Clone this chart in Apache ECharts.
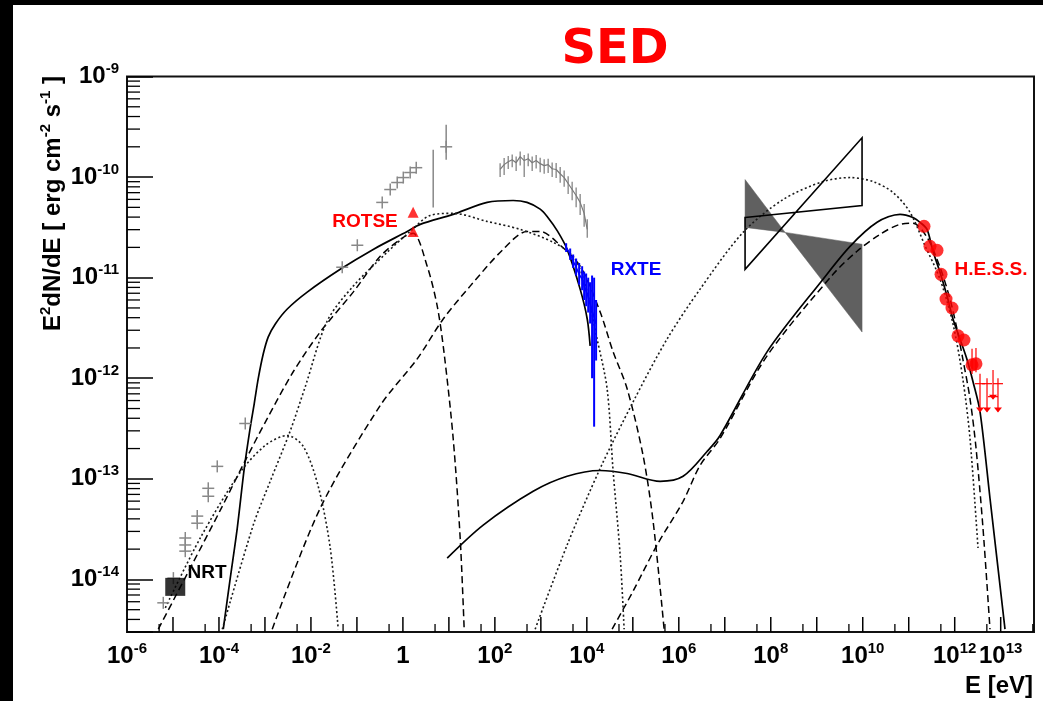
<!DOCTYPE html>
<html><head><meta charset="utf-8">
<script src="https://cdn.jsdelivr.net/npm/echarts@6/dist/echarts.min.js"></script>
<style>
html,body{margin:0;padding:0;background:#000;width:1043px;height:701px;overflow:hidden}
#c{position:absolute;left:13px;top:5px;width:1030px;height:696px;background:#fff}
</style></head><body><div id="c"></div>
<script>
// ---------- axis ----------
const X_MIN = 1e-6, X_MAX = 5.3e13, Y_MIN = 3e-15, Y_MAX = 1e-9;
const xTickExponents = [-6, -4, -2, 0, 2, 4, 6, 8, 10, 12, 13];
const yTickExponents = [-14, -13, -12, -11, -10, -9];

// ---------- model curves [E (eV), E^2 dN/dE] ----------
const synchrotronTotal = [[1.24e-4,3.2e-15],[1.76e-4,1.03e-14],[2.5e-4,3.24e-14],[3.55e-4,1.27e-13],[4.79e-4,3.24e-13],[5.85e-4,5.6e-13],[7.14e-4,9.9e-13],[9.2e-4,1.75e-12],[1.18e-3,2.58e-12],[1.68e-3,3.47e-12],[3.06e-3,4.88e-12],[8.3e-3,7.18e-12],[4.34e-2,1.21e-11],[0.226,1.91e-11],[1.24,2.88e-11],[2.38,3.39e-11],[12.4,4.26e-11],[68,5.6e-11],[250,5.85e-11],[500,5.6e-11],[966,4.8e-11],[1370,4.06e-11],[2300,2.9e-11],[3730,1.91e-11],[7150,7.69e-12],[1.02e4,3.88e-12],[1.18e4,2.1e-12]];
const inverseComptonTotal = [[9.18,1.63e-14],[55.7,3.47e-14],[681,7.52e-14],[3730,1.06e-13],[1.95e4,1.21e-13],[7.52e4,1.13e-13],[3.92e5,9.44e-14],[1.24e6,1.06e-13],[4.12e6,1.87e-13],[7.9e6,2.7e-13],[8.3e7,1.83e-12],[1.37e9,9.66e-12],[5.3e9,2.05e-11],[2.05e10,3.55e-11],[6.47e10,4.26e-11],[1.24e11,3.97e-11],[1.76e11,3.55e-11],[2.5e11,3.02e-11],[3.37e11,1.83e-11],[4.79e11,1.13e-11],[6.81e11,6.56e-12],[9.18e11,3.88e-12],[1.3e12,2.46e-12],[1.83e12,1.56e-12],[2.5e12,9.23e-13],[3.55e12,4.66e-13],[5.85e12,6.41e-14],[8.73e12,1.3e-14],[1.24e13,3.2e-15]];
const synchrotronDashed1 = [[4.79e-6,3.2e-15],[2.38e-5,1.3e-14],[1.07e-4,4.88e-14],[3.73e-4,1.52e-13],[1.12e-3,3.97e-13],[4.12e-3,1.16e-12],[1.59e-2,2.88e-12],[8.3e-2,7.18e-12],[0.321,1.63e-11],[1.02,2.52e-11],[1.67,2.76e-11],[3.37,1.3e-11],[5.57,5.23e-12],[7.9,1.75e-12],[12.4,2.52e-13],[17.6,2.58e-14],[21.5,3.2e-15]];
const synchrotronDashed2 = [[1.44e-3,3.2e-15],[1.59e-2,5.1e-14],[0.321,5.35e-13],[2.05,1.56e-12],[7.52,3.88e-12],[29,8.24e-12],[151,1.91e-11],[500,2.88e-11],[966,2.88e-11],[2630,2.1e-11],[7150,1.3e-11],[1.95e4,4.55e-12],[3.73e4,1.83e-12],[7.52e4,7.87e-13],[1.67e5,1.71e-13],[2.76e5,3.79e-14],[4.79e5,3.2e-15]];
const inverseComptonDashed = [[3.55e4,3.2e-15],[1.02e5,7.69e-15],[3.37e5,2.2e-14],[1.24e6,5.98e-14],[2.9e6,1.36e-13],[7.9e6,2.52e-13],[8.3e7,1.67e-12],[2.26e9,1.08e-11],[7.52e9,1.83e-11],[2.38e10,2.7e-11],[6.47e10,3.39e-11],[1.24e11,3.47e-11],[2.5e11,2.52e-11],[4.79e11,1.27e-11],[7.9e11,6.12e-12],[1.12e12,3.09e-12],[1.5e12,1.56e-12],[2.15e12,6.27e-13],[2.9e12,2.05e-13],[4.12e12,3.24e-14],[5.85e12,3.2e-15]];
const synchrotronDotted1 = [[6.81e-6,5.22e-15],[3.92e-5,2.58e-14],[2.9e-4,1.16e-13],[1.02e-3,2.15e-13],[3.06e-3,2.7e-13],[6.81e-3,2.1e-13],[1.44e-2,8.43e-14],[2.63e-2,2.05e-14],[3.92e-2,3.2e-15]];
const synchrotronDotted2 = [[1.18e-4,3.2e-15],[5.57e-4,3.47e-14],[1.3e-3,9.44e-14],[3.55e-3,3.0e-13],[7.52e-3,8.24e-13],[2.26e-2,3.71e-12],[8.3e-2,8.24e-12],[0.456,1.79e-11],[1.44,2.88e-11],[3.92,4.16e-11],[12.4,4.36e-11],[68,3.62e-11],[355,3.02e-11],[1850,2.25e-11],[5040,1.63e-11],[9180,8.63e-12],[1.67e4,2.46e-12],[2.76e4,7.87e-13],[3.73e4,1.19e-13],[5.3e4,1.75e-14],[6.47e4,3.2e-15]];
const inverseComptonDotted = [[752,3.2e-15],[3730,2.2e-14],[1.95e4,1.27e-13],[1.02e5,5.85e-13],[5.57e5,2.46e-12],[2.9e6,7.69e-12],[2.5e7,2.82e-11],[1.85e8,5.98e-11],[1.37e9,9.02e-11],[5.3e9,9.89e-11],[1.67e10,9.02e-11],[4.56e10,7.03e-11],[1.07e11,4.46e-11],[2.24e11,2.1e-11],[4.79e11,9.66e-12],[9.18e11,3.47e-12],[1.5e12,9.9e-13],[2.15e12,2.52e-13],[3.21e12,2.05e-14]];

// ---------- data ----------
const grayCrosses = [[6.15e-6,5.85e-15],[1.02e-5,1.03e-14],[1.85e-5,2.58e-14],[1.85e-5,2.2e-14],[1.85e-5,1.91e-14],[3.37e-5,4.26e-14],[3.37e-5,3.62e-14],[5.85e-5,8.05e-14],[5.85e-5,6.71e-14],[9.18e-5,1.33e-13],[3.73e-4,3.55e-13],[4.79e-2,1.27e-11],[0.102,2.1e-11],[0.355,5.6e-11],[0.53,7.52e-11],[0.752,8.83e-11],[1.02,9.89e-11],[1.44,1.11e-10],[1.95,1.24e-10],[8.73,2.0e-10]];
const grayErrE  = [4.56, 8.73];
const grayErrLo = [4.99e-11, 1.49e-10];
const grayErrHi = [1.87e-10, 3.31e-10];

const xraySpecE  = [130,159,195,238,290,355,434,530,647,790,966,1180,1440,1760,2150,2630,3210,3920,4790,5850,7150,8730,1.02e4];
const xraySpecF  = [1.19e-10,1.33e-10,1.42e-10,1.49e-10,1.39e-10,1.6e-10,1.46e-10,1.52e-10,1.39e-10,1.46e-10,1.36e-10,1.30e-10,1.33e-10,1.21e-10,1.19e-10,1.08e-10,9.89e-11,8.63e-11,7.52e-11,6.56e-11,5.6e-11,4.36e-11,3.02e-11];
const xraySpecLo = [1.0e-10,1.05e-10,1.2e-10,1.25e-10,1.15e-10,1.3e-10,1.0e-10,1.28e-10,1.15e-10,1.22e-10,1.12e-10,1.08e-10,1.1e-10,1.0e-10,9.8e-11,8.8e-11,8.0e-11,6.8e-11,5.9e-11,5.0e-11,4.2e-11,3.2e-11,2.5e-11];
const xraySpecHi = [1.37e-10,1.55e-10,1.62e-10,1.68e-10,1.6e-10,1.8e-10,1.66e-10,1.72e-10,1.6e-10,1.66e-10,1.56e-10,1.5e-10,1.52e-10,1.4e-10,1.38e-10,1.26e-10,1.16e-10,1.02e-10,9.0e-11,7.9e-11,6.8e-11,5.4e-11,3.8e-11];

const rxteE  = [3550,4340,5040,5850,6810,7900,8730,9660,1.07e4,1.18e4,1.3e4,1.44e4,1.59e4];
const rxteF  = [2.0e-11,1.71e-11,1.46e-11,1.27e-11,1.08e-11,9.66e-12,8.24e-12,7.35e-12,6.41e-12,5.47e-12,4.66e-12,4.06e-12,3.47e-12];
const rxteLo = [1.8e-11,1.5e-11,1.25e-11,1.05e-11,8.5e-12,7.5e-12,6.0e-12,5.2e-12,4.5e-12,3.5e-12,1.0e-12,3.3e-13,1.5e-12];
const rxteHi = [2.2e-11,1.95e-11,1.7e-11,1.55e-11,1.4e-11,1.3e-11,1.15e-11,1.1e-11,1.0e-11,9.0e-12,1.05e-11,1.0e-11,6.0e-12];

const rotse = [[1.67,4.46e-11],[1.67,2.88e-11]];
const nrt = [[1.12e-5,8.43e-15]];

const hessE = [2.15e11,2.9e11,4.12e11,5.04e11,6.47e11,8.73e11,1.18e12,1.59e12,2.38e12,2.9e12];
const hessF = [3.24e-11,2.05e-11,1.87e-11,1.08e-11,6.12e-12,4.99e-12,2.64e-12,2.4e-12,1.36e-12,1.39e-12];
const hessErrE  = [2.38e12, 2.9e12];
const hessErrLo = [1.1e-12, 1.15e-12];
const hessErrHi = [1.96e-12, 2.0e-12];
const hessUlE     = [3.55e12, 5.04e12, 6.81e12, 8.73e12];
const hessUlF     = [8.83e-13, 8.83e-13, 6.56e-13, 8.83e-13];
const hessUlTop   = [1.11e-12, 1.0e-12, 1.21e-12, 1.0e-12];
const hessUlArrow = [4.66e-13, 4.66e-13, 6.27e-13, 4.66e-13];

const bowtieFilledLeft  = [[2.76e7,9.44e-11],[2.05e8,2.82e-11],[2.76e7,3.16e-11]];
const bowtieFilledRight = [[2.05e8,2.82e-11],[9.66e9,2.15e-11],[9.66e9,2.88e-12]];
const bowtieOpen        = [[2.76e7,3.97e-11],[9.66e9,5.22e-11],[9.66e9,2.46e-10],[2.76e7,1.21e-11]];

// ---------- helpers ----------
const FONT = '"Liberation Sans", Arial, Helvetica, sans-serif';
const OX = 13, OY = 5;
function expOf(v){ const l = Math.log10(v); const e = Math.round(l); return Math.abs(l - e) < 1e-6 ? e : null; }
function supLabel(e){ return e === 0 ? '{b|1}' : '{b|10}{s|' + e + '}'; }
const labelRich = {
  b: {fontFamily: FONT, fontWeight: 'bold', fontSize: 24, lineHeight: 30, color: '#000', fill: '#000'},
  s: {fontFamily: FONT, fontWeight: 'bold', fontSize: 15, lineHeight: 15, verticalAlign: 'top', color: '#000', fill: '#000'}
};

function curve(data, kind){
  const t = kind === 'solid' ? 'solid' : (kind === 'dashed' ? [7, 4] : [2, 2.5]);
  return {type: 'line', data: data, symbol: 'none', showSymbol: false, smooth: 0.3, silent: true, z: 3,
    lineStyle: {color: kind === 'dotted' ? '#1a1a1a' : '#000', width: kind === 'solid' ? 1.7 : (kind === 'dotted' ? 1.6 : 1.5), type: t}};
}
function polygonSeries(verts, style){
  return {type: 'custom', silent: true, z: 1, data: [verts[0]],
    renderItem: function(p, api){
      return {type: 'polygon', shape: {points: verts.map(v => api.coord(v))}, style: style};
    }};
}
function errorBars(E, lo, hi, color, width, z){
  return {type: 'custom', silent: true, z: z || 4, data: E.map((e, i) => [e, lo[i], hi[i]]),
    renderItem: function(p, api){
      const a = api.coord([api.value(0), api.value(1)]);
      const b = api.coord([api.value(0), api.value(2)]);
      return {type: 'line', shape: {x1: a[0], y1: a[1], x2: b[0], y2: b[1]}, style: {stroke: color, lineWidth: width}};
    }};
}

const yMinor = [];
for (let n = -15; n <= -10; n++) for (let k = 2; k <= 9; k++) { const v = k * Math.pow(10, n); if (v > Y_MIN * 1.001 && v < Y_MAX) yMinor.push(v); }
const xMajor = [];
for (let n = -5; n <= 13; n++) xMajor.push(Math.pow(10, n));
const xMinor = [];
for (let n = -6; n <= 13; n++) { const v = 5 * Math.pow(10, n); if (v < X_MAX) xMinor.push(v); }

const chart = echarts.init(document.getElementById('c'));
chart.setOption({
  animation: false,
  backgroundColor: '#fff',
  grid: {left: 114, top: 71.5, right: 9, bottom: 69, show: true, borderColor: '#111', borderWidth: 2, backgroundColor: 'transparent'},
  xAxis: {
    type: 'log', logBase: 10, min: X_MIN, max: X_MAX,
    axisLine: {show: false}, splitLine: {show: false}, axisTick: {show: false}, axisLabel: {show: false}
  },
  yAxis: {
    type: 'log', logBase: 10, min: Y_MIN, max: Y_MAX, splitNumber: 6,
    axisLine: {show: false}, splitLine: {show: false},
    axisTick: {show: true, inside: true, length: 26, lineStyle: {color: '#000', width: 1.5}},
    axisLabel: {margin: 8, rich: labelRich,
      formatter: v => { const e = expOf(v); return (e !== null && yTickExponents.includes(e)) ? supLabel(e) : ''; }}
  },
  graphic: [
    {type: 'text', x: 615 - OX, y: 51 - OY, style: {text: 'SED', fill: '#ff0000', font: 'bold 48px "DejaVu Sans", sans-serif', align: 'center', verticalAlign: 'middle'}},
    {type: 'text', x: 1033 - OX, y: 686 - OY, style: {text: 'E [eV]', fill: '#000', font: 'bold 24px ' + FONT, align: 'right', verticalAlign: 'middle'}},
    {type: 'text', x: 53 - OX, y: 76 - OY, rotation: Math.PI / 2,
      style: {text: '{n|E}{p|2}{n|dN/dE [ erg cm}{p|-2}{n| s}{p|-1}{n| ]}', align: 'right', verticalAlign: 'middle',
        rich: {n: {fontFamily: FONT, fontWeight: 'bold', fontSize: 24, lineHeight: 30, fill: '#000'},
               p: {fontFamily: FONT, fontWeight: 'bold', fontSize: 15, lineHeight: 15, verticalAlign: 'top', fill: '#000'}}}},
    {type: 'text', x: 365 - OX, y: 222 - OY, style: {text: 'ROTSE', fill: '#ff0000', font: 'bold 19px ' + FONT, align: 'center', verticalAlign: 'middle'}},
    {type: 'text', x: 636 - OX, y: 270 - OY, style: {text: 'RXTE', fill: '#0000ff', font: 'bold 19px ' + FONT, align: 'center', verticalAlign: 'middle'}},
    {type: 'text', x: 991 - OX, y: 270 - OY, style: {text: 'H.E.S.S.', fill: '#ff0000', font: 'bold 19px ' + FONT, align: 'center', verticalAlign: 'middle'}},
    {type: 'text', x: 207 - OX, y: 573 - OY, style: {text: 'NRT', fill: '#000', font: 'bold 19px ' + FONT, align: 'center', verticalAlign: 'middle'}}
  ],
  series: [
    polygonSeries(bowtieFilledLeft, {fill: '#606060', stroke: '#606060', lineWidth: 0.5}),
    polygonSeries(bowtieFilledRight, {fill: '#606060', stroke: '#606060', lineWidth: 0.5}),
    curve(synchrotronTotal, 'solid'),
    curve(inverseComptonTotal, 'solid'),
    curve(synchrotronDashed1, 'dashed'),
    curve(synchrotronDashed2, 'dashed'),
    curve(inverseComptonDashed, 'dashed'),
    curve(synchrotronDotted1, 'dotted'),
    curve(synchrotronDotted2, 'dotted'),
    curve(inverseComptonDotted, 'dotted'),
    Object.assign(polygonSeries(bowtieOpen, {fill: 'none', stroke: '#000', lineWidth: 1.6}), {z: 5}),
    // X-ray spectrum (gray)
    {type: 'line', data: xraySpecE.map((e, i) => [e, xraySpecF[i]]), symbol: 'none', silent: true, z: 4,
      lineStyle: {color: '#7a7a7a', width: 1.2}},
    errorBars(xraySpecE, xraySpecLo, xraySpecHi, '#7a7a7a', 1.2),
    // gray crosses
    {type: 'custom', silent: true, z: 4, data: grayCrosses,
      renderItem: function(p, api){
        const c = api.coord([api.value(0), api.value(1)]); const a = 6;
        return {type: 'group', children: [
          {type: 'line', shape: {x1: c[0] - a, y1: c[1], x2: c[0] + a, y2: c[1]}, style: {stroke: '#888', lineWidth: 1.5}},
          {type: 'line', shape: {x1: c[0], y1: c[1] - a, x2: c[0], y2: c[1] + a}, style: {stroke: '#888', lineWidth: 1.5}}]};
      }},
    errorBars(grayErrE, grayErrLo, grayErrHi, '#888', 1.5),
    // RXTE
    {type: 'line', data: rxteE.map((e, i) => [e, rxteF[i]]), symbol: 'none', silent: true, z: 5,
      lineStyle: {color: '#0000ff', width: 1.5}},
    errorBars(rxteE, rxteLo, rxteHi, '#0000ff', 2, 5),
    // ROTSE
    {type: 'scatter', data: rotse, symbol: 'triangle', symbolSize: 11, silent: true, z: 6, itemStyle: {color: '#ff0000'}},
    // NRT
    {type: 'scatter', data: nrt, symbol: 'rect', symbolSize: [20, 18], silent: true, z: 6, itemStyle: {color: '#000'}},
    // HESS
    errorBars(hessErrE, hessErrLo, hessErrHi, '#ff0000', 1.2, 6),
    {type: 'scatter', data: hessE.map((e, i) => [e, hessF[i]]), symbol: 'circle', symbolSize: 13, silent: true, z: 6, itemStyle: {color: '#ff0000'}},
    {type: 'custom', silent: true, z: 6, data: hessUlE.map((e, i) => [e, hessUlF[i], hessUlTop[i], hessUlArrow[i]]),
      renderItem: function(p, api){
        const v = api.coord([api.value(0), api.value(1)]);
        const t = api.coord([api.value(0), api.value(2)]);
        const b = api.coord([api.value(0), api.value(3)]);
        const st = {stroke: '#ff0000', lineWidth: 1.2};
        return {type: 'group', children: [
          {type: 'line', shape: {x1: t[0], y1: t[1], x2: b[0], y2: b[1]}, style: st},
          {type: 'line', shape: {x1: v[0] - 5, y1: v[1], x2: v[0] + 5, y2: v[1]}, style: st},
          {type: 'polygon', shape: {points: [[b[0] - 4, b[1] - 4], [b[0] + 4, b[1] - 4], [b[0], b[1] + 1]]}, style: {fill: '#ff0000'}}]};
      }},
    // y minor ticks
    {type: 'custom', silent: true, z: 7, data: yMinor.map(v => [X_MIN, v]),
      renderItem: function(p, api){
        const c = api.coord([X_MIN, api.value(1)]);
        return {type: 'line', shape: {x1: c[0], y1: c[1], x2: c[0] + 13, y2: c[1]}, style: {stroke: '#000', lineWidth: 1.3}};
      }},
    // x major ticks
    {type: 'custom', silent: true, z: 7, data: xMajor.map(v => [v, Y_MIN]),
      renderItem: function(p, api){
        const c = api.coord([api.value(0), Y_MIN]);
        return {type: 'line', shape: {x1: c[0], y1: c[1], x2: c[0], y2: c[1] - 15}, style: {stroke: '#000', lineWidth: 1.5}};
      }},
    // x minor ticks
    {type: 'custom', silent: true, z: 7, data: xMinor.map(v => [v, Y_MIN]),
      renderItem: function(p, api){
        const c = api.coord([api.value(0), Y_MIN]);
        return {type: 'line', shape: {x1: c[0], y1: c[1], x2: c[0], y2: c[1] - 8}, style: {stroke: '#000', lineWidth: 1.3}};
      }},
    // x tick labels
    {type: 'custom', silent: true, z: 7, data: xTickExponents.map(e => [Math.pow(10, e), Y_MIN, e]),
      renderItem: function(p, api){
        const c = api.coord([api.value(0), Y_MIN]);
        return {type: 'text', x: c[0], y: c[1] + 9,
          style: {text: supLabel(api.value(2)), rich: labelRich, align: 'center', verticalAlign: 'top', fill: '#000'}};
      }}
  ]
});
</script>
</body></html>
